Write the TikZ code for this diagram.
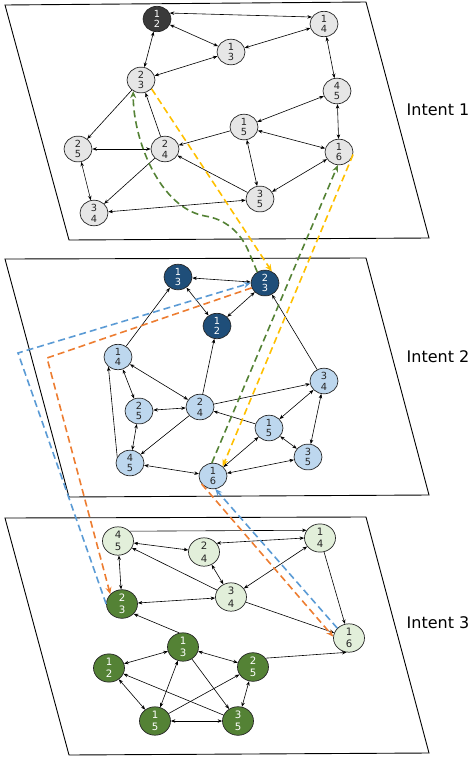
\documentclass[tikz,border=0pt]{standalone}
\usepackage{fontspec}
\setmainfont{DejaVu Sans}
\usetikzlibrary{shapes.geometric,arrows.meta}
\definecolor{darkgry}{HTML}{3A3A3A}
\definecolor{lightgry}{HTML}{E6E6E6}
\definecolor{darkblu}{HTML}{1F4E79}
\definecolor{lightblu}{HTML}{BDD7EE}
\definecolor{darkgrn}{HTML}{548235}
\definecolor{lightgrn}{HTML}{E2EFDA}
\definecolor{traceylw}{HTML}{FFC000}
\definecolor{traceblu}{HTML}{5B9BD5}
\definecolor{traceorg}{HTML}{ED7D31}
\begin{document}
\begin{tikzpicture}[x=1pt, y=-1pt,
	>={Stealth[length=4.5pt,width=3.5pt]},
	state/.style={ellipse, draw=black!85, line width=0.7pt, minimum width=28pt, minimum height=25pt, inner sep=0pt, align=center, font=\fontsize{9.8}{10.8}\selectfont},
	big/.style={minimum width=31pt, minimum height=27pt, font=\fontsize{10.2}{12.5}\selectfont},
	plain1/.style={state, fill=lightgry, text=black!85},
	hot1/.style={state, fill=darkgry, text=white},
	plain2/.style={state, fill=lightblu, text=black!85},
	hot2/.style={state, fill=darkblu, text=white},
	plain3/.style={state, big, fill=lightgrn, text=black!85},
	hot3/.style={state, big, fill=darkgrn, text=white},
	plane/.style={line width=0.9pt},
	link/.style={line width=0.6pt},
	trace/.style={dash pattern=on 7pt off 4pt, line width=1.6pt, -{Stealth[length=7pt,width=6pt]}},
	intent/.style={font=\fontsize{16}{19}\selectfont}]
\useasboundingbox (0,0) rectangle (471,761);
\draw[plane] (5,5) -- (366,2) -- (429,238) -- (69,240) -- cycle;
\draw[plane] (5,259) -- (366,258) -- (429,495) -- (69,497) -- cycle;
\draw[plane] (5,518) -- (366,517) -- (429,753) -- (69,755) -- cycle;
\node[intent] (t1) at (438,110) {Intent 1};
\node[intent] (t2) at (438,357) {Intent 2};
\node[intent] (t3) at (438,623) {Intent 3};

\node[hot1] (a12) at (157,19) {1\\2};
\foreach \p/\q/\x/\y in {1/4/324/24, 1/3/231/52, 2/3/141/80, 4/5/337/91, 1/5/244/127, 1/6/339/152, 2/5/78/149, 2/4/165/149, 3/5/260/199, 3/4/94/213}
{
	\node[plain1] (a\p\q) at (\x,\y) {\p\\\q};
}
\foreach \p/\q/\x/\y in {1/3/178/277, 2/3/265/283, 1/2/217/326}
{
	\node[hot2] (b\p\q) at (\x,\y) {\p\\\q};
}
\foreach \p/\q/\x/\y in {1/4/118/357, 3/4/324/381, 2/4/200/407, 2/5/139/411, 1/5/269/428, 3/5/308/457, 4/5/130/463, 1/6/213/476}
{
	\node[plain2] (b\p\q) at (\x,\y) {\p\\\q};
}
\foreach \p/\q/\x/\y in {2/3/122/604, 1/3/183/647, 1/2/109/668, 2/5/253/667, 1/5/155/721, 3/5/238/721}
{
	\node[hot3] (c\p\q) at (\x,\y) {\p\\\q};
}
\foreach \p/\q/\x/\y in {4/5/118/541, 2/4/204/552, 1/4/320/538, 3/4/231/597, 1/6/349/638}
{
	\node[plain3] (c\p\q) at (\x,\y) {\p\\\q};
}

\foreach \s/\t in {a12/a13, a12/a23, a13/a14, a13/a23, a14/a45, a45/a15, a45/a16, a15/a16, a15/a35, a16/a35, a35/a34, a25/a24, a25/a34,
	b13/b23, b13/b12, b23/b12, b14/b24, b14/b25, b25/b24, b34/b15, b34/b35, b15/b35, b15/b16, b35/b16, b45/b16, b45/b25,
	c45/c24, c45/c23, c24/c34, c14/c34, c34/c23, c13/c12, c13/c25, c13/c15, c12/c15, c25/c35, c15/c35}
	\draw[link, <->] (\s) -- (\t);
\foreach \s/\t in {a15/a24, a35/a24, a23/a25, a24/a23, a24/a34,
	b14/b13, b24/b12, b34/b23, b24/b34, b24/b45, b15/b24,
	c34/c45, c34/c16, c14/c16, c13/c35, c35/c12, c15/c25}
	\draw[link, ->] (\s) -- (\t);
\draw[link, <->] (a12.25) -- (a14.150);
\draw[link, <->] (c24.35) -- (c14.180);
\draw[link, ->] (c45.40) -- (c14.150);
\draw[link, ->] (b45.155) -- (b14.-135);
\draw[link, ->] (c13.105) -- (c23.-40);
\draw[link, ->] (c25.35) -- (c16.-100);

\draw[trace, darkgrn] (b23.125) -- (248,250) .. controls (240,232) and (225,219) .. (205,216) .. controls (160,208) and (133,140) .. (a23.235);
\draw[trace, traceylw] (a23.-40) -- (b23.60);
\draw[trace, darkgrn] (b16.95) -- (a16.-95);
\draw[trace, traceylw] (a16.-10) -- (b16.45);
\draw[trace, traceblu] (c23.180) -- (18,353) -- (b23.180);
\draw[trace, traceorg] (b23.200) -- (47,358) -- (c23.140);
\draw[trace, traceblu] (c16.140) -- (b16.-80);
\draw[trace, traceorg] (b16.-145) -- (c16.175);
\end{tikzpicture}
\end{document}
